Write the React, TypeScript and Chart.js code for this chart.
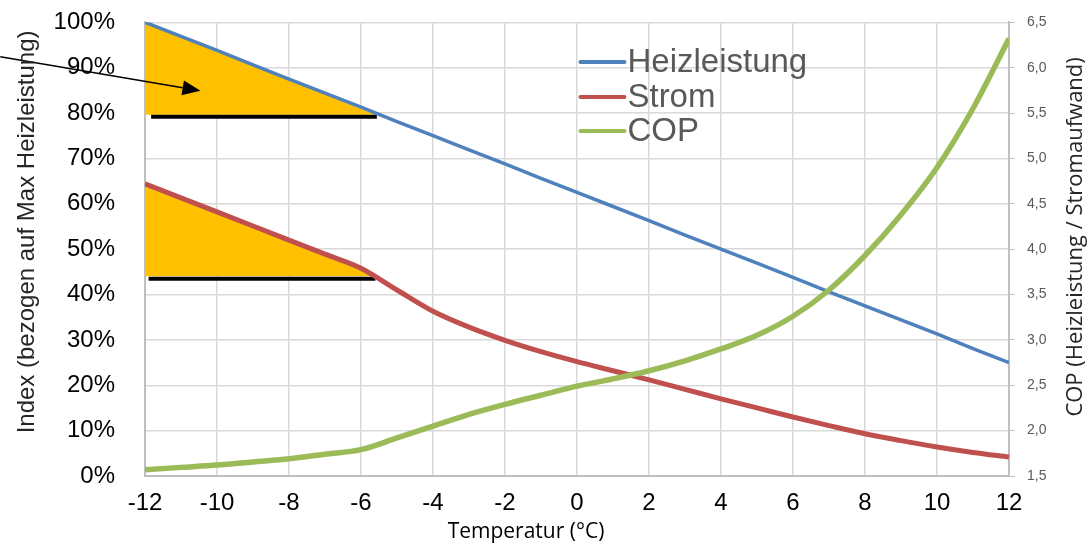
import React, { useEffect, useRef } from "react";
import { Chart, registerables } from "chart.js";

Chart.register(...registerables);

// Temperatures (°C)
const temps = [-12, -11, -10, -9, -8, -7, -6, -5, -4, -3, -2, -1, 0, 1, 2, 3, 4, 5, 6, 7, 8, 9, 10, 11, 12];
// Heizleistung (% of max)
const heizleistung = [100, 96.9, 93.8, 90.6, 87.5, 84.4, 81.3, 78.1, 75, 71.9, 68.8, 65.6, 62.5, 59.4, 56.3, 53.1, 50, 46.9, 43.8, 40.6, 37.5, 34.4, 31.3, 28.1, 25];
// Strom (% of max Heizleistung)
const strom = [64.4, 61.3, 58.2, 55.1, 52.0, 48.9, 45.8, 41.0, 36.3, 32.8, 29.9, 27.4, 25.2, 23.2, 21.2, 19.1, 17.0, 15.0, 13.0, 11.1, 9.3, 7.8, 6.4, 5.2, 4.2];
// COP (right axis)
const cop = [1.57, 1.595, 1.62, 1.655, 1.69, 1.74, 1.79, 1.92, 2.05, 2.18, 2.29, 2.39, 2.49, 2.57, 2.66, 2.77, 2.9, 3.05, 3.26, 3.55, 3.93, 4.38, 4.9, 5.55, 6.32];

const seriesNames = ["Heizleistung", "Strom", "COP"];
const seriesColors = ["#4F81BD", "#C0504D", "#9BBB59"];

const xTitle = "Temperatur (°C)";
const yTitle = "Index (bezogen auf Max Heizleistung)";
const y1Title = "COP (Heizleistung / Stromaufwand)";

const leftTicksMin = 0;
const leftTicksMax = 100;
const rightTicksMin = 1.5;
const rightTicksMax = 6.5;

// Annotation triangles (data units): [x, y] vertices
const upperTriangle = [[-12, 100], [-5.6, 79.6], [-12, 79.6]];
const upperBaseLine = [[-11.83, 79.2], [-5.56, 79.2]];
const lowerTriangle = [[-12, 64.4], [-6, 45.8], [-5.65, 44.0], [-12, 44.0]];
const lowerBaseLine = [[-11.9, 43.5], [-5.6, 43.5]];
const arrowLine = [[-16.02, 92.4], [-10.46, 84.9]];

const FONT = "'Liberation Sans', Arial, sans-serif";
const FONT2 = "'Open Sans', sans-serif";

const annotationPlugin = {
  id: "annotations",
  beforeDatasetsDraw(chart: any) {
    const { ctx, scales } = chart;
    const xs = scales.x, ys = scales.y;
    const px = (p: number[]) => [xs.getPixelForValue(p[0]), ys.getPixelForValue(p[1])];
    ctx.save();
    ctx.fillStyle = "#FFC000";
    for (const tri of [upperTriangle, lowerTriangle]) {
      ctx.beginPath();
      tri.forEach((p, i) => {
        const [x, y] = px(p);
        if (i === 0) ctx.moveTo(x, y); else ctx.lineTo(x, y);
      });
      ctx.closePath();
      ctx.fill();
    }
    ctx.strokeStyle = "#000";
    ctx.lineWidth = 4;
    for (const ln of [upperBaseLine, lowerBaseLine]) {
      const [x1, y1] = px(ln[0]);
      const [x2, y2] = px(ln[1]);
      ctx.beginPath();
      ctx.moveTo(x1, y1);
      ctx.lineTo(x2, y2);
      ctx.stroke();
    }
    ctx.restore();
  },
  afterDatasetsDraw(chart: any) {
    const { ctx, scales, chartArea } = chart;
    const xs = scales.x, ys = scales.y;
    const px = (p: number[]) => [xs.getPixelForValue(p[0]), ys.getPixelForValue(p[1])];
    ctx.save();
    // arrow
    const [x1, y1] = px(arrowLine[0]);
    const [x2, y2] = px(arrowLine[1]);
    const ang = Math.atan2(y2 - y1, x2 - x1);
    const headLen = 18, headW = 7.5;
    const bx = x2 - headLen * Math.cos(ang), by = y2 - headLen * Math.sin(ang);
    ctx.strokeStyle = "#000";
    ctx.fillStyle = "#000";
    ctx.lineWidth = 1.5;
    ctx.beginPath();
    ctx.moveTo(x1, y1);
    ctx.lineTo(bx, by);
    ctx.stroke();
    ctx.beginPath();
    ctx.moveTo(x2, y2);
    ctx.lineTo(bx + headW * Math.sin(ang), by - headW * Math.cos(ang));
    ctx.lineTo(bx - headW * Math.sin(ang), by + headW * Math.cos(ang));
    ctx.closePath();
    ctx.fill();

    // legend
    const lx = chartArea.left + chartArea.width * 0.504;
    const rows = [39.7, 74.7, 108.7];
    ctx.font = `33px ${FONT}`;
    ctx.textBaseline = "middle";
    ctx.textAlign = "left";
    chart.data.datasets.forEach((ds: any, i: number) => {
      const y = chartArea.top + rows[i];
      ctx.strokeStyle = ds.borderColor;
      ctx.lineWidth = 4;
      ctx.lineCap = "round";
      ctx.beginPath();
      ctx.moveTo(lx, y);
      ctx.lineTo(lx + 44, y);
      ctx.stroke();
      ctx.fillStyle = "#595959";
      ctx.fillText(ds.label, lx + 47, y + 1);
    });
    ctx.restore();
  },
  afterDraw(chart: any) {
    const { ctx, scales, chartArea } = chart;
    ctx.save();
    ctx.textAlign = "center";
    ctx.textBaseline = "middle";
    // x title
    ctx.fillStyle = "#000";
    ctx.font = `21px ${FONT2}`;
    ctx.fillText(xTitle, chartArea.left + chartArea.width * 0.441, scales.x.bottom - 11);
    // left title
    ctx.save();
    ctx.fillStyle = "#262626";
    ctx.font = `24px ${FONT}`;
    ctx.translate(scales.y.left + 27, chartArea.top + chartArea.height * 0.462);
    ctx.rotate(-Math.PI / 2);
    ctx.fillText(yTitle, 0, 0);
    ctx.restore();
    // right title
    ctx.save();
    ctx.fillStyle = "#262626";
    ctx.font = `22px ${FONT2}`;
    ctx.translate(scales.y1.right - 12, chartArea.top + chartArea.height * 0.473);
    ctx.rotate(-Math.PI / 2);
    ctx.fillText(y1Title, 0, 0);
    ctx.restore();
    ctx.restore();
  },
};

export default function App() {
  const canvasRef = useRef<HTMLCanvasElement>(null);

  useEffect(() => {
    document.body.style.margin = "0";
    const canvas = canvasRef.current;
    if (!canvas) return;
    const chart = new Chart(canvas, {
      type: "line",
      data: {
        datasets: [
          {
            label: seriesNames[0],
            data: temps.map((t, i) => ({ x: t, y: heizleistung[i] })),
            borderColor: seriesColors[0],
            backgroundColor: seriesColors[0],
            borderWidth: 3.5,
            yAxisID: "y",
            order: 2,
          },
          {
            label: seriesNames[1],
            data: temps.map((t, i) => ({ x: t, y: strom[i] })),
            borderColor: seriesColors[1],
            backgroundColor: seriesColors[1],
            borderWidth: 5,
            yAxisID: "y",
            cubicInterpolationMode: "monotone",
            order: 1,
          },
          {
            label: seriesNames[2],
            data: temps.map((t, i) => ({ x: t, y: cop[i] })),
            borderColor: seriesColors[2],
            backgroundColor: seriesColors[2],
            borderWidth: 5.5,
            yAxisID: "y1",
            cubicInterpolationMode: "monotone",
            order: 0,
          },
        ],
      },
      options: {
        animation: false,
        responsive: true,
        maintainAspectRatio: false,
        layout: { padding: { top: 22.3, left: 0, right: 0, bottom: 0 } },
        elements: { point: { radius: 0 } },
        plugins: { legend: { display: false }, tooltip: { enabled: false } },
        scales: {
          x: {
            type: "linear",
            min: -12,
            max: 12,
            ticks: { stepSize: 2, font: { family: FONT, size: 24 }, color: "#000", padding: 13 },
            grid: { color: "#d9d9d9", lineWidth: 1.5, drawTicks: false },
            border: { color: "#bfbfbf", width: 2 },
            title: { display: false },
            afterFit: (s: any) => { s.height = 67; },
          },
          y: {
            position: "left",
            min: leftTicksMin,
            max: leftTicksMax,
            ticks: {
              stepSize: 10,
              font: { family: FONT, size: 24 },
              color: "#000",
              padding: 0,
              callback: (v: any) => `${v}%`,
            },
            grid: {
              color: "#d9d9d9",
              lineWidth: 1.5,
              drawTicks: true,
              tickLength: 30,
              tickColor: "rgba(0,0,0,0)",
            },
            border: { color: "#bfbfbf", width: 2 },
            title: { display: false },
            afterFit: (s: any) => { s.width = 145; },
          },
          y1: {
            position: "right",
            min: rightTicksMin,
            max: rightTicksMax,
            ticks: {
              stepSize: 0.5,
              font: { family: FONT, size: 14 },
              color: "#595959",
              padding: 12,
              callback: (v: any) => Number(v).toFixed(1).replace(".", ","),
            },
            grid: { drawOnChartArea: false, tickLength: 6, tickColor: "#bfbfbf", color: "#bfbfbf" },
            border: { color: "#bfbfbf", width: 2 },
            title: { display: false },
            afterFit: (s: any) => { s.width = 79; },
          },
        },
      },
      plugins: [annotationPlugin],
    });
    return () => chart.destroy();
  }, []);

  return (
    <div style={{ position: "relative", width: 1088, height: 543 }}>
      <canvas ref={canvasRef} />
    </div>
  );
}
